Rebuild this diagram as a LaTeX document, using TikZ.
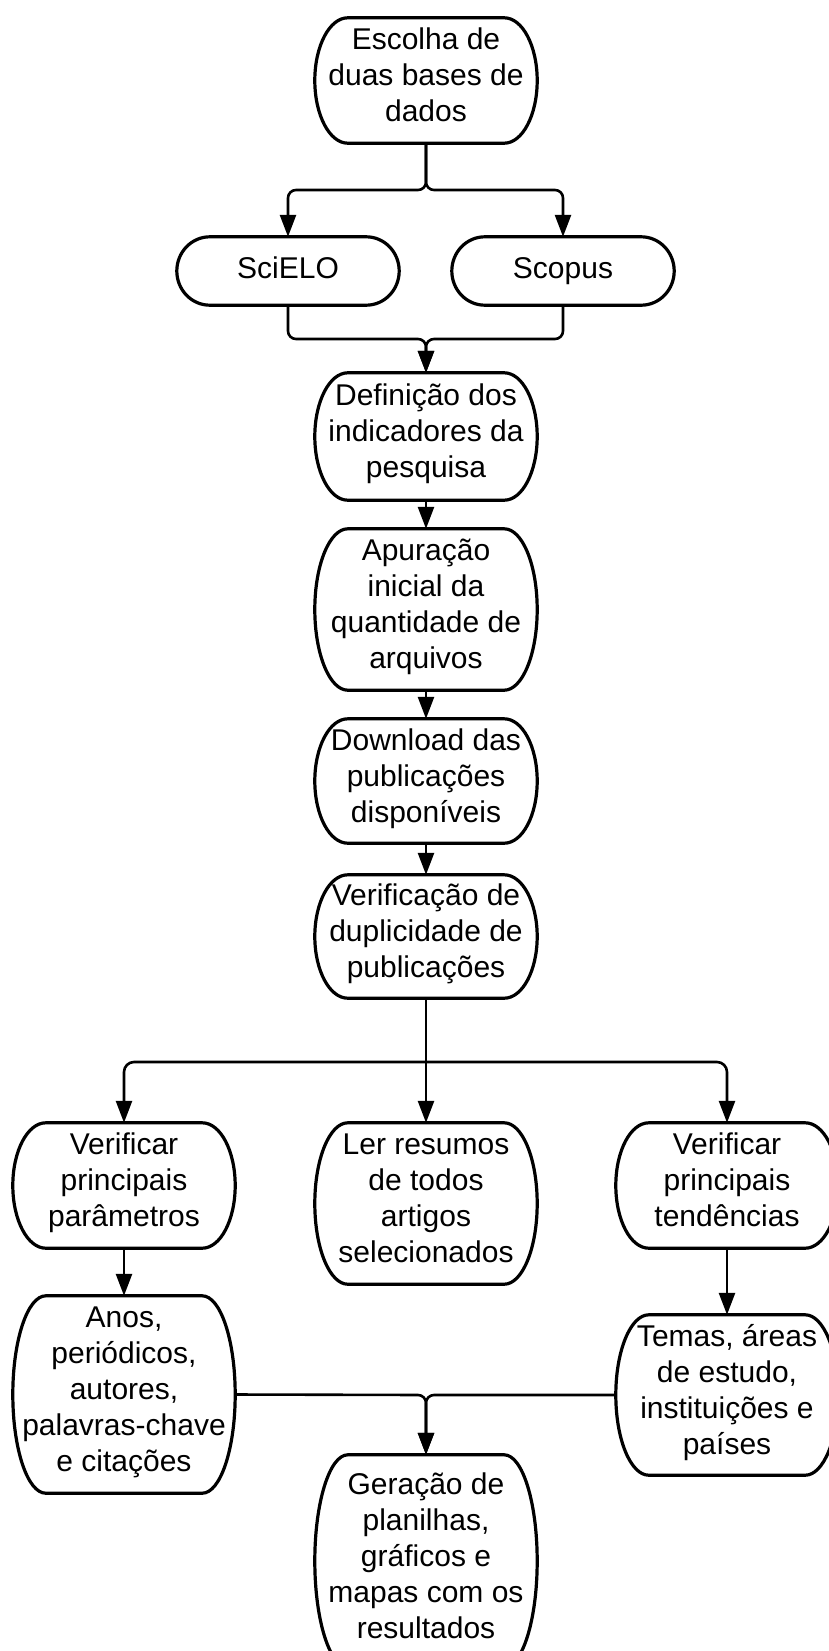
\documentclass[tikz,border=0pt]{standalone}
\usepackage{fontspec}
\setmainfont{Liberation Sans}
\usetikzlibrary{arrows.meta,calc}
\newcommand\termbox[1]{\draw[shapeline] let \p1=(#1.north west), \p2=(#1.south east), \n1={(\y1-\y2)/2} in
  (\x1+33pt,\y1) -- (\x2-33pt,\y1) arc[start angle=90,end angle=-90,x radius=33pt,y radius=\n1]
  -- (\x1+33pt,\y2) arc[start angle=270,end angle=90,x radius=33pt,y radius=\n1] -- cycle;}
\begin{document}
\begin{tikzpicture}[x=1pt,y=-1pt,
  txt/.style={rectangle, inner sep=0pt, minimum width=222pt, align=center, font=\fontsize{30}{36}\selectfont,
    execute at begin node=\strut, execute at end node=\strut},
  conn/.style={line width=2.6pt},
  arr/.style={conn, -{Triangle[length=22pt,width=16pt]}},
  shapeline/.style={line width=3.2pt}]
\useasboundingbox (0,0) rectangle (829,1651);
\node[txt, minimum height=125pt] (top) at (426,80.5) {Escolha de\\duas bases de\\dados};
\node[txt, minimum height=68pt] (sci) at (288,271) {SciELO};
\node[txt, minimum height=68pt] (sco) at (563,271) {Scopus};
\node[txt, minimum height=127pt] (def) at (426,436.5) {Definição dos\\indicadores da\\pesquisa};
\node[txt, minimum height=161pt] (apu) at (426,609.5) {Apuração\\inicial da\\quantidade de\\arquivos};
\node[txt, minimum height=124pt] (dow) at (426,781) {Download das\\publicações\\disponíveis};
\node[txt, minimum height=123pt] (ver) at (426,936.5) {Verificação de\\duplicidade de\\publicações};
\node[txt, minimum height=125pt] (vl) at (124,1185.5) {Verificar\\principais\\parâmetros};
\node[txt, minimum height=161pt] (ler) at (426,1203.5) {Ler resumos\\de todos\\artigos\\selecionados};
\node[txt, minimum height=125pt] (vr) at (727,1185.5) {Verificar\\principais\\tendências};
\node[txt, minimum height=197pt] (anos) at (124,1394.5) {Anos,\\periódicos,\\autores,\\palavras-chave\\e citações};
\node[txt, minimum height=160pt] (tem) at (727,1395) {Temas, áreas\\de estudo,\\instituições e\\países};
\node[txt, minimum height=212pt] (ger) at (426,1561) {Geração de\\planilhas,\\gráficos e\\mapas com os\\resultados};
\foreach \b in {top,sci,sco,def,apu,dow,ver,vl,ler,vr,anos,tem,ger} {\termbox{\b}}
\coordinate (j1) at (426,190);
\coordinate (j2) at (426,339);
\coordinate (j3) at (426,1062);
\coordinate (j4) at (426,1395);
\draw[arr, rounded corners=8pt] (top.south) -- (j1) -- (j1 -| sci.north) -- (sci.north);
\draw[arr, rounded corners=8pt] (top.south) -- (j1) -- (j1 -| sco.north) -- (sco.north);
\draw[arr, rounded corners=8pt] (sci.south) -- (sci.south |- j2) -- (j2) -- (def.north);
\draw[arr, rounded corners=8pt] (sco.south) -- (sco.south |- j2) -- (j2) -- (def.north);
\draw[arr] (def.south) -- (apu.north);
\draw[arr] (apu.south) -- (dow.north);
\draw[arr] (dow.south) -- (ver.north);
\draw[conn] (ver.south) -- (j3);
\draw[arr] (j3) -- (ler.north);
\draw[arr, rounded corners=10pt] (j3) -- (j3 -| vl.north) -- (vl.north);
\draw[arr, rounded corners=10pt] (j3) -- (j3 -| vr.north) -- (vr.north);
\draw[arr] (vl.south) -- (anos.north);
\draw[arr] (vr.south) -- (tem.north);
\draw[arr, rounded corners=8pt] (anos.east) -- (j4) -- (ger.north);
\draw[arr, rounded corners=8pt] (tem.west) -- (j4) -- (ger.north);
\end{tikzpicture}
\end{document}
